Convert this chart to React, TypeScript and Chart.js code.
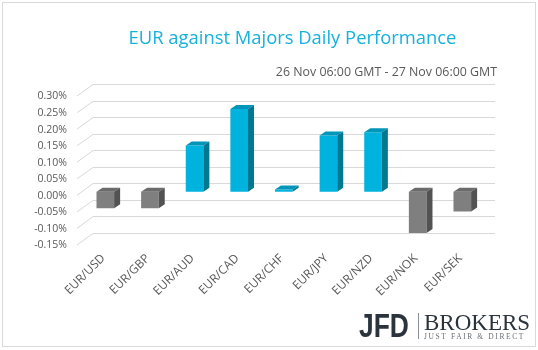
import React, { useEffect, useRef } from 'react';
import { Chart, registerables } from 'chart.js';

Chart.register(...registerables);

const categories = ['EUR/USD', 'EUR/GBP', 'EUR/AUD', 'EUR/CAD', 'EUR/CHF', 'EUR/JPY', 'EUR/NZD', 'EUR/NOK', 'EUR/SEK'];
const performance = [-0.05, -0.05, 0.14, 0.25, 0.007, 0.17, 0.18, -0.125, -0.06];
const yTicks = [-0.15, -0.1, -0.05, 0, 0.05, 0.1, 0.15, 0.2, 0.25, 0.3];
const titleText = 'EUR against Majors Daily Performance';
const subtitleText = '26 Nov 06:00 GMT - 27 Nov 06:00 GMT';
const logoMain = 'JFD';
const logoBrand = 'BROKERS';
const logoTagline = 'JUST FAIR & DIRECT';

const POS = { front: '#00B3DE', top: '#0096B9', side: '#00788F' };
const NEG = { front: '#7F7F7F', top: '#6B6B6B', side: '#525252' };
const GRID = '#D9D9D9';
const BAR_DX = 6;
const BAR_DY = -4;

const scenePlugin = {
  id: 'scene',
  beforeDraw(chart: any) {
    const ctx = chart.ctx;
    ctx.save();
    ctx.fillStyle = '#ffffff';
    ctx.fillRect(0, 0, chart.width, chart.height);
    ctx.strokeStyle = GRID;
    ctx.lineWidth = 1;
    ctx.strokeRect(2.5, 2.5, 533, 344);

    // title
    ctx.fillStyle = '#17B1DD';
    ctx.font = '18.4px "Open Sans"';
    ctx.textAlign = 'center';
    ctx.textBaseline = 'middle';
    ctx.fillText(titleText, 292.5, 39);

    // subtitle
    ctx.fillStyle = '#595959';
    ctx.font = '12.4px "Open Sans"';
    ctx.textAlign = 'right';
    ctx.fillText(subtitleText, 497, 72);

    // logo
    ctx.fillStyle = '#2B333D';
    ctx.textAlign = 'left';
    ctx.textBaseline = 'alphabetic';
    ctx.save();
    ctx.translate(359, 337);
    ctx.scale(0.8, 1);
    ctx.font = 'bold 33px "Liberation Sans"';
    ctx.fillText(logoMain, 0, 0);
    ctx.restore();
    ctx.strokeStyle = '#8A9099';
    ctx.lineWidth = 1;
    ctx.beginPath();
    ctx.moveTo(418.5, 313);
    ctx.lineTo(418.5, 339);
    ctx.stroke();
    ctx.font = '23px "Liberation Serif"';
    ctx.fillText(logoBrand, 424, 329.5);
    ctx.fillStyle = '#6A6F75';
    ctx.font = '7.5px "Liberation Serif"';
    (ctx as any).letterSpacing = '1.6px';
    ctx.fillText(logoTagline, 424, 339);
    (ctx as any).letterSpacing = '0px';
    ctx.restore();
  },
  beforeDatasetsDraw(chart: any) {
    const ctx = chart.ctx;
    const y = chart.scales.y;
    const area = chart.chartArea;
    ctx.save();
    ctx.strokeStyle = GRID;
    ctx.lineWidth = 1;
    yTicks.forEach((v) => {
      const yb = y.getPixelForValue(v);
      const backY = Math.round(yb - 8.5) + 0.5;
      ctx.beginPath();
      ctx.moveTo(area.left - 6, yb + 3.6);
      ctx.lineTo(area.left + 10, backY);
      ctx.lineTo(area.right + 10.4, backY);
      ctx.stroke();
    });
    ctx.restore();
  },
  afterDatasetsDraw(chart: any) {
    const ctx = chart.ctx;
    const meta = chart.getDatasetMeta(0);
    ctx.save();
    meta.data.forEach((bar: any, i: number) => {
      const props = bar.getProps(['x', 'y', 'base', 'width'], true);
      const pal = performance[i] >= 0 ? POS : NEG;
      const l = props.x - props.width / 2;
      const r = props.x + props.width / 2;
      const t = Math.min(props.y, props.base);
      const b = Math.max(props.y, props.base);
      ctx.fillStyle = pal.top;
      ctx.beginPath();
      ctx.moveTo(l, t);
      ctx.lineTo(r, t);
      ctx.lineTo(r + BAR_DX, t + BAR_DY);
      ctx.lineTo(l + BAR_DX, t + BAR_DY);
      ctx.closePath();
      ctx.fill();
      ctx.fillStyle = pal.side;
      ctx.beginPath();
      ctx.moveTo(r, t);
      ctx.lineTo(r + BAR_DX, t + BAR_DY);
      ctx.lineTo(r + BAR_DX, b + BAR_DY);
      ctx.lineTo(r, b);
      ctx.closePath();
      ctx.fill();
    });
    ctx.restore();
  },
};

export default function App() {
  const ref = useRef<HTMLCanvasElement | null>(null);
  useEffect(() => {
    if (!ref.current) return;
    const chart = new Chart(ref.current, {
      type: 'bar',
      data: {
        labels: categories,
        datasets: [
          {
            data: performance,
            backgroundColor: performance.map((v) => (v >= 0 ? POS.front : NEG.front)),
            borderWidth: 0,
            barPercentage: 0.395,
            categoryPercentage: 1,
          },
        ],
      },
      options: {
        responsive: false,
        animation: false,
        events: [],
        layout: { padding: { left: 0, right: 53.4, top: 92.5, bottom: 0 } },
        plugins: { legend: { display: false }, tooltip: { enabled: false }, title: { display: false } },
        scales: {
          x: {
            grid: { display: false, drawTicks: false },
            border: { display: false },
            ticks: {
              autoSkip: false,
              maxRotation: 45,
              minRotation: 45,
              padding: 10,
              labelOffset: -2,
              color: '#595959',
              font: { family: 'Open Sans', size: 12 },
            },
            afterFit: (s: any) => {
              s.height = 108.7;
            },
          },
          y: {
            min: -0.15,
            max: 0.3,
            grid: { display: false, drawTicks: false },
            border: { display: false },
            afterBuildTicks: (s: any) => {
              s.ticks = yTicks.map((v) => ({ value: v }));
            },
            ticks: {
              padding: 16,
              labelOffset: 4,
              color: '#595959',
              font: { family: 'Open Sans', size: 10.5 },
              callback: (v: any) => Number(v).toFixed(2) + '%',
            },
            afterFit: (s: any) => {
              s.width = 83;
            },
          },
        },
      },
      plugins: [scenePlugin],
    });
    return () => chart.destroy();
  }, []);
  return (
    <div style={{ position: 'absolute', left: 0, top: 0, width: 538, height: 350, background: '#fff' }}>
      <canvas ref={ref} width={538} height={350} style={{ display: 'block' }} />
    </div>
  );
}
